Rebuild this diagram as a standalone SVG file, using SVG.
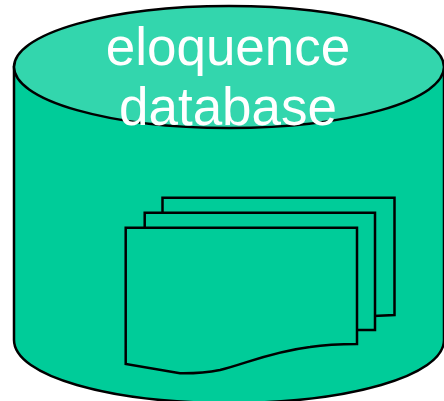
<svg xmlns="http://www.w3.org/2000/svg" width="444" height="401" viewBox="0 0 444 401">
<style>
.l{stroke:#000;stroke-width:2.5;stroke-linejoin:miter}
.t{font-family:"Liberation Sans",Arial,sans-serif;font-size:53px;fill:#fff;text-anchor:middle}
</style>
<rect width="444" height="401" fill="#fff"/>
<g id="cylinder">
<path class="l" fill="#00cc99" d="M14 67V340C14 376 110 403 229 403C348 403 444 376 444 340V67Z"/>
<ellipse class="l" cx="229" cy="67" rx="215" ry="61" fill="#33d6ad"/>
</g>
<g id="documents">
<path class="l" fill="#00cc99" d="M162.500 197.700H394.500V315L373 316H162.500Z"/>
<path class="l" fill="#00cc99" d="M144.700 212.700H375V330H144.700Z"/>
<path class="l" fill="#00cc99" d="M125.700 227.700H357V344C340 344 323 345 310 347C270 352 245 364 220 370C205 373 195 373.500 180 373.300L125.700 364Z"/>
</g>
<g id="label">
<text class="t" x="228" y="65">eloquence</text>
<text class="t" x="228" y="125">database</text>
</g>
</svg>
